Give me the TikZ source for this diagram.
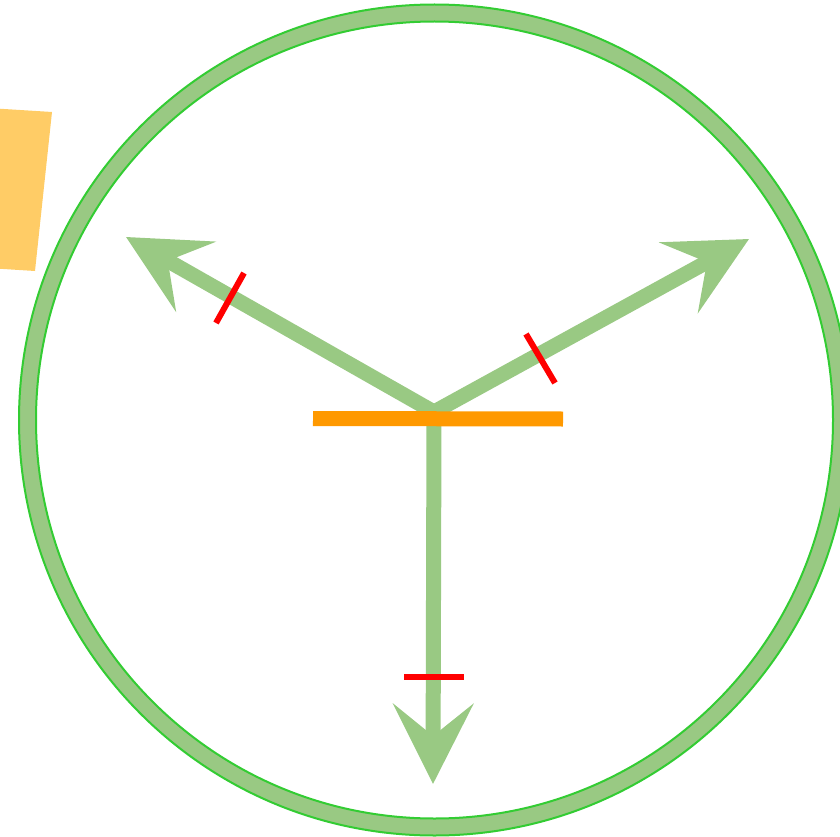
\documentclass[tikz,border=0pt]{standalone}
\usetikzlibrary{arrows.meta}
\definecolor{ringgreen}{HTML}{99C983}
\definecolor{ringedge}{HTML}{33CC33}
\definecolor{barorange}{HTML}{FF9900}
\definecolor{padorange}{HTML}{FFCC66}
\begin{document}
\begin{tikzpicture}[
        x=1pt, y=-1pt,
        force/.style={
            line width=15pt, draw=ringgreen,
            -{Stealth[length=80pt, width=80pt, inset=32pt]}
        },
        tick/.style={draw=red, line width=6pt},
        ringedge/.style={draw=ringedge, line width=2pt}
    ]
    \useasboundingbox (0,0) rectangle (840,837);
    % ring
    \coordinate (c) at (434.5,420);
    \path[ringedge, fill=ringgreen, even odd rule]
        (c) circle[radius=415.5] (c) circle[radius=398.5];
    % pad at the top left
    \fill[padorange] (-60,105) -- (52,112) -- (35,271) -- (-60,265) -- cycle;
    % forces
    \coordinate (o) at (434,412);
    \coordinate (tl) at (126,237);
    \coordinate (tr) at (749,239);
    \coordinate (bt) at (433,784);
    \draw[force] (o) -- (tl);
    \draw[force] (o) -- (tr);
    \draw[force] (o) -- (bt);
    % surface
    \coordinate (sl) at (313,418.5);
    \coordinate (sr) at (563,419);
    \draw[draw=barorange, line width=15pt] (sl) -- (sr);
    % equal-length marks
    \coordinate (m1a) at (244,273);
    \coordinate (m1b) at (216,323);
    \coordinate (m2a) at (526,334);
    \coordinate (m2b) at (555,383);
    \coordinate (m3a) at (404,677);
    \coordinate (m3b) at (464,677);
    \draw[tick] (m1a) -- (m1b);
    \draw[tick] (m2a) -- (m2b);
    \draw[tick] (m3a) -- (m3b);
\end{tikzpicture}
\end{document}
